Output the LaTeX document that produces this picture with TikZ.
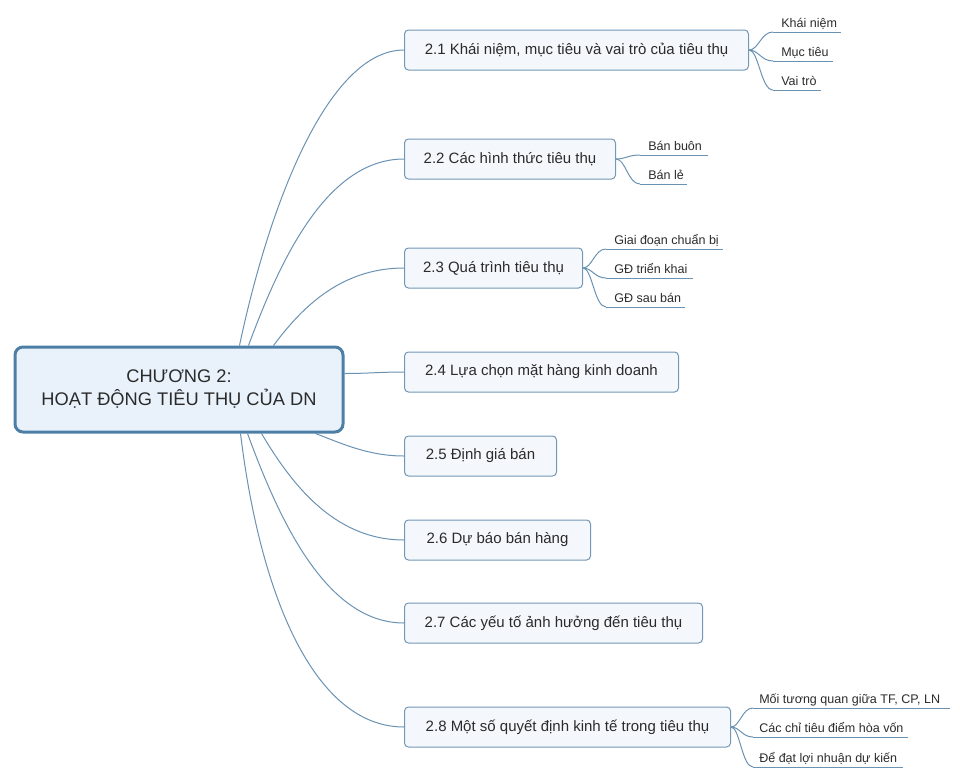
\documentclass[tikz,border=0pt]{standalone}
\usepackage{fontspec}
\setmainfont{Liberation Sans}
\usetikzlibrary{calc}
\definecolor{cfill}{HTML}{E9F2FB}
\definecolor{cdraw}{HTML}{4D7FA6}
\definecolor{tfill}{HTML}{F4F8FC}
\definecolor{tdraw}{HTML}{7397B5}
\definecolor{lcol}{HTML}{6A92B2}
\definecolor{txt}{HTML}{2B2B2B}
\newcommand\mmcurve[6]{\draw[conn] let \p1=(#1), \p2=(#2) in (\p1) .. controls ({\x1+#3*(\x2-\x1)},{\y1+#4*(\y2-\y1)}) and ({\x1+#5*(\x2-\x1)},{\y1+#6*(\y2-\y1)}) .. (\p2);}
\tikzset{
  central/.style={draw=cdraw, line width=2.25pt, fill=cfill, rounded corners=6pt, text=txt,
    minimum width=246pt, minimum height=63.75pt, align=center,
    font=\fontsize{13.7}{17.25}\selectfont, inner sep=0pt},
  topic/.style={draw=tdraw, line width=0.75pt, fill=tfill, rounded corners=3pt, text=txt,
    minimum height=30pt, anchor=west, inner sep=0pt, font=\fontsize{11.25}{13}\selectfont},
  leaf/.style={anchor=base west, inner sep=0pt, text=txt, font=\fontsize{9.4}{11}\selectfont},
  conn/.style={draw=lcol, line width=0.75pt},
  uline/.style={draw=lcol, line width=0.75pt}
}
\begin{document}
\begin{tikzpicture}[x=0.75pt, y=-0.75pt]
\useasboundingbox (0,0) rectangle (960,778);
% central
\node[central] (c) at (179,389.5) {CHƯƠNG 2:\\HOẠT ĐỘNG TIÊU THỤ CỦA DN};
% topics
\node[topic, minimum width={344*0.75pt}] (t1) at (404,50) {2.1 Khái niệm, mục tiêu và vai trò của tiêu thụ};
\node[topic, minimum width={211*0.75pt}] (t2) at (404,159) {2.2 Các hình thức tiêu thụ};
\node[topic, minimum width={178*0.75pt}] (t3) at (404,268) {2.3 Quá trình tiêu thụ};
\node[topic, minimum width={274*0.75pt}] (t4) at (404,372) {2.4 Lựa chọn mặt hàng kinh doanh};
\node[topic, minimum width={152*0.75pt}] (t5) at (404,456) {2.5 Định giá bán};
\node[topic, minimum width={186*0.75pt}] (t6) at (404,540) {2.6 Dự báo bán hàng};
\node[topic, minimum width={298*0.75pt}] (t7) at (404,623) {2.7 Các yếu tố ảnh hưởng đến tiêu thụ};
\node[topic, minimum width={326*0.75pt}] (t8) at (404,727) {2.8 Một số quyết định kinh tế trong tiêu thụ};
% central connectors
\coordinate (s1) at ($(c.north west)+(226,0)$);
\coordinate (s2) at ($(c.north west)+(235,0)$);
\coordinate (s3) at ($(c.north west)+(260,0)$);
\coordinate (s4) at ($(c.north east)+(0,28)$);
\coordinate (s5) at ($(c.south west)+(302,0)$);
\coordinate (s6) at ($(c.south west)+(248,0)$);
\coordinate (s7) at ($(c.south west)+(234,0)$);
\coordinate (s8) at ($(c.south west)+(227,0)$);
\mmcurve{s1}{t1.west}{0.19}{0.5}{0.55}{1}
\mmcurve{s2}{t2.west}{0.2}{0.45}{0.5}{1}
\mmcurve{s3}{t3.west}{0.2}{0.45}{0.5}{1}
\mmcurve{s4}{t4.west}{0.4}{0}{0.6}{1}
\mmcurve{s5}{t5.west}{0.3}{0.45}{0.6}{1}
\mmcurve{s6}{t6.west}{0.2}{0.45}{0.5}{1}
\mmcurve{s7}{t7.west}{0.2}{0.45}{0.5}{1}
\mmcurve{s8}{t8.west}{0.12}{0.55}{0.45}{1}
% leaves of 2.1
\coordinate (u11) at (773,32); \draw[uline] (u11) -- ++(68,0);
\coordinate (u12) at (773,61); \draw[uline] (u12) -- ++(60,0);
\coordinate (u13) at (773,90); \draw[uline] (u13) -- ++(48,0);
\node[leaf] (l11) at ($(u11)+(8,-5)$) {Khái niệm};
\node[leaf] (l12) at ($(u12)+(8,-5)$) {Mục tiêu};
\node[leaf] (l13) at ($(u13)+(8,-5)$) {Vai trò};
\mmcurve{t1.east}{u11}{0.4}{0}{0.5}{1}
\mmcurve{t1.east}{u12}{0.4}{0}{0.5}{1}
\mmcurve{t1.east}{u13}{0.4}{0}{0.5}{1}
% leaves of 2.2
\coordinate (u21) at (640,155); \draw[uline] (u21) -- ++(68,0);
\coordinate (u22) at (640,184); \draw[uline] (u22) -- ++(47,0);
\node[leaf] (l21) at ($(u21)+(8,-5)$) {Bán buôn};
\node[leaf] (l22) at ($(u22)+(8,-5)$) {Bán lẻ};
\mmcurve{t2.east}{u21}{0.4}{0}{0.5}{1}
\mmcurve{t2.east}{u22}{0.4}{0}{0.5}{1}
% leaves of 2.3
\coordinate (u31) at (606,249); \draw[uline] (u31) -- ++(117,0);
\coordinate (u32) at (606,278); \draw[uline] (u32) -- ++(87,0);
\coordinate (u33) at (606,307); \draw[uline] (u33) -- ++(79,0);
\node[leaf] (l31) at ($(u31)+(8,-5)$) {Giai đoạn chuẩn bị};
\node[leaf] (l32) at ($(u32)+(8,-5)$) {GĐ triển khai};
\node[leaf] (l33) at ($(u33)+(8,-5)$) {GĐ sau bán};
\mmcurve{t3.east}{u31}{0.4}{0}{0.5}{1}
\mmcurve{t3.east}{u32}{0.4}{0}{0.5}{1}
\mmcurve{t3.east}{u33}{0.4}{0}{0.5}{1}
% leaves of 2.8
\coordinate (u81) at (753,708); \draw[uline] (u81) -- ++(197,0);
\coordinate (u82) at (753,737); \draw[uline] (u82) -- ++(155,0);
\coordinate (u83) at (753,767); \draw[uline] (u83) -- ++(150,0);
\node[leaf] (l81) at ($(u81)+(6,-5)$) {Mối tương quan giữa TF, CP, LN};
\node[leaf] (l82) at ($(u82)+(6,-5)$) {Các chỉ tiêu điểm hòa vốn};
\node[leaf] (l83) at ($(u83)+(6,-5)$) {Để đạt lợi nhuận dự kiến};
\mmcurve{t8.east}{u81}{0.4}{0}{0.5}{1}
\mmcurve{t8.east}{u82}{0.4}{0}{0.5}{1}
\mmcurve{t8.east}{u83}{0.4}{0}{0.5}{1}
\end{tikzpicture}
\end{document}
